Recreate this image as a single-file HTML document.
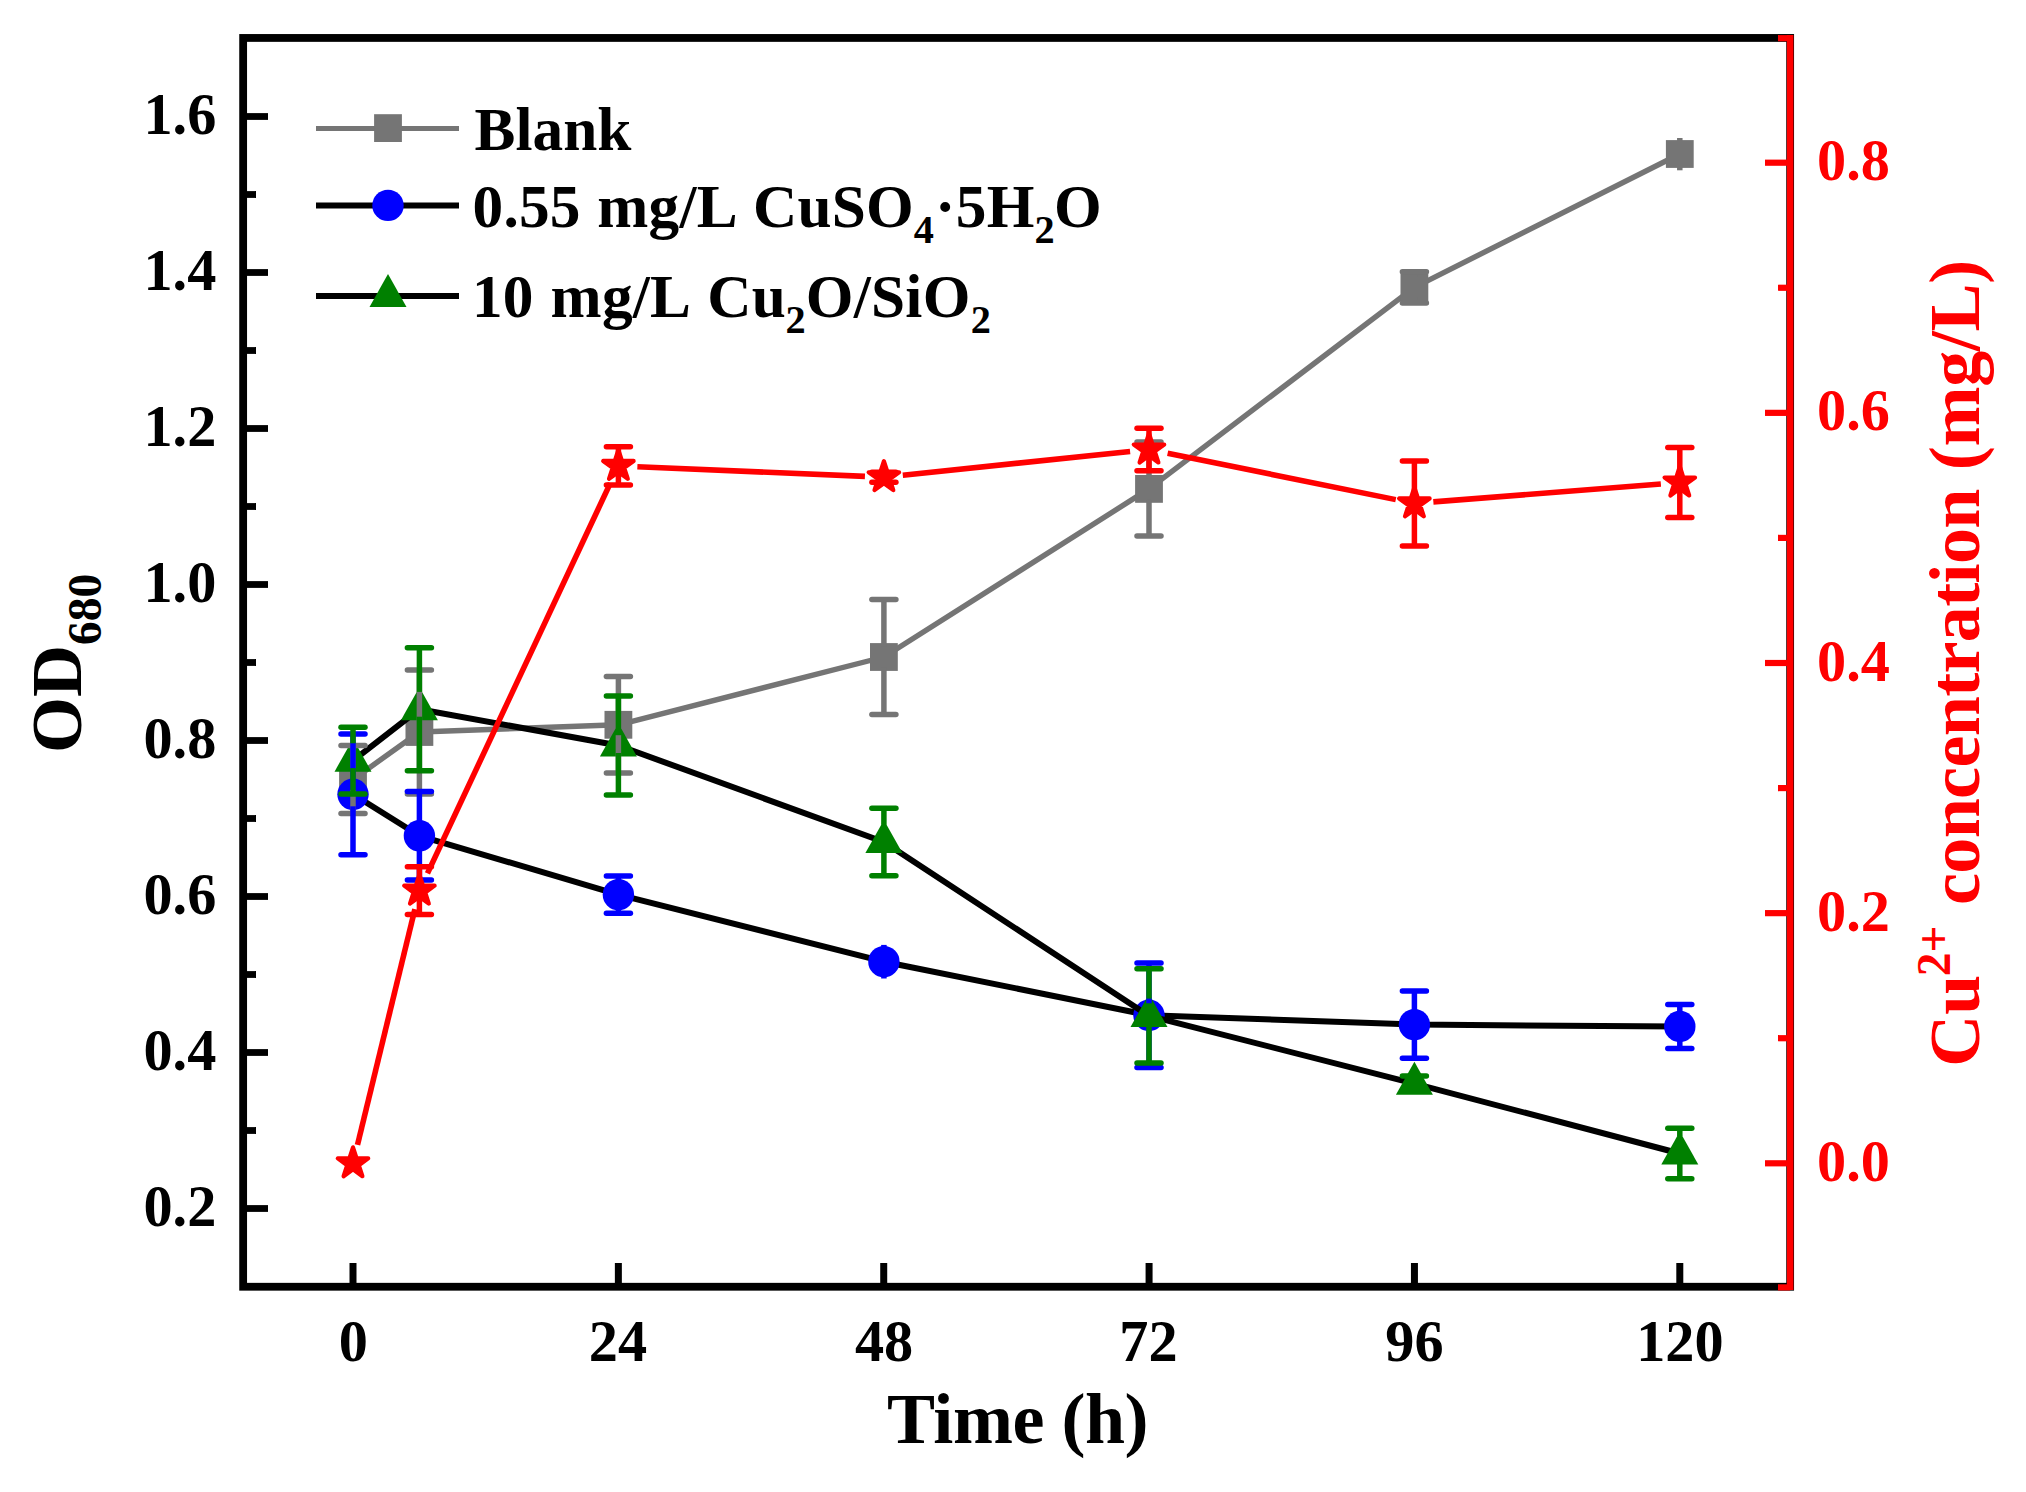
<!DOCTYPE html>
<html lang="en">
<head>
<meta charset="utf-8">
<title>OD680 and Cu2+ concentration vs time</title>
<style>
html,body{margin:0;padding:0;background:#fff;}
body{width:2026px;height:1492px;overflow:hidden;}
svg{display:block;}
</style>
</head>
<body>
<svg width="2026" height="1492" viewBox="0 0 2026 1492" font-family="'Liberation Serif', serif" font-weight="bold">
<rect x="0" y="0" width="2026" height="1492" fill="#ffffff"/>
<rect x="243.15" y="37.95" width="1547" height="1248.8" fill="none" stroke="#000" stroke-width="7.8"/>
<line x1="243.15" y1="1208.5" x2="268" y2="1208.5" stroke="#000" stroke-width="6.8"/>
<line x1="243.15" y1="1130.5" x2="256" y2="1130.5" stroke="#000" stroke-width="6.8"/>
<line x1="243.15" y1="1052.5" x2="268" y2="1052.5" stroke="#000" stroke-width="6.8"/>
<line x1="243.15" y1="974.5" x2="256" y2="974.5" stroke="#000" stroke-width="6.8"/>
<line x1="243.15" y1="896.5" x2="268" y2="896.5" stroke="#000" stroke-width="6.8"/>
<line x1="243.15" y1="818.5" x2="256" y2="818.5" stroke="#000" stroke-width="6.8"/>
<line x1="243.15" y1="740.5" x2="268" y2="740.5" stroke="#000" stroke-width="6.8"/>
<line x1="243.15" y1="662.5" x2="256" y2="662.5" stroke="#000" stroke-width="6.8"/>
<line x1="243.15" y1="584.5" x2="268" y2="584.5" stroke="#000" stroke-width="6.8"/>
<line x1="243.15" y1="506.5" x2="256" y2="506.5" stroke="#000" stroke-width="6.8"/>
<line x1="243.15" y1="428.5" x2="268" y2="428.5" stroke="#000" stroke-width="6.8"/>
<line x1="243.15" y1="350.5" x2="256" y2="350.5" stroke="#000" stroke-width="6.8"/>
<line x1="243.15" y1="272.5" x2="268" y2="272.5" stroke="#000" stroke-width="6.8"/>
<line x1="243.15" y1="194.5" x2="256" y2="194.5" stroke="#000" stroke-width="6.8"/>
<line x1="243.15" y1="116.5" x2="268" y2="116.5" stroke="#000" stroke-width="6.8"/>
<line x1="243.15" y1="1286.5" x2="256" y2="1286.5" stroke="#000" stroke-width="6.8"/>
<line x1="353" y1="1286.75" x2="353" y2="1263" stroke="#000" stroke-width="7"/>
<line x1="618.36" y1="1286.75" x2="618.36" y2="1263" stroke="#000" stroke-width="7"/>
<line x1="883.72" y1="1286.75" x2="883.72" y2="1263" stroke="#000" stroke-width="7"/>
<line x1="1149.08" y1="1286.75" x2="1149.08" y2="1263" stroke="#000" stroke-width="7"/>
<line x1="1414.44" y1="1286.75" x2="1414.44" y2="1263" stroke="#000" stroke-width="7"/>
<line x1="1679.8" y1="1286.75" x2="1679.8" y2="1263" stroke="#000" stroke-width="7"/>
<line x1="1790.15" y1="35" x2="1790.15" y2="1290" stroke="#ff0000" stroke-width="6.6"/>
<line x1="1778" y1="1287.4" x2="1790.15" y2="1287.4" stroke="#ff0000" stroke-width="6.2"/>
<line x1="1765" y1="1163.3" x2="1790.15" y2="1163.3" stroke="#ff0000" stroke-width="6.2"/>
<line x1="1778" y1="1038.22" x2="1790.15" y2="1038.22" stroke="#ff0000" stroke-width="6.2"/>
<line x1="1765" y1="913.15" x2="1790.15" y2="913.15" stroke="#ff0000" stroke-width="6.2"/>
<line x1="1778" y1="788.07" x2="1790.15" y2="788.07" stroke="#ff0000" stroke-width="6.2"/>
<line x1="1765" y1="663" x2="1790.15" y2="663" stroke="#ff0000" stroke-width="6.2"/>
<line x1="1778" y1="537.92" x2="1790.15" y2="537.92" stroke="#ff0000" stroke-width="6.2"/>
<line x1="1765" y1="412.85" x2="1790.15" y2="412.85" stroke="#ff0000" stroke-width="6.2"/>
<line x1="1778" y1="287.77" x2="1790.15" y2="287.77" stroke="#ff0000" stroke-width="6.2"/>
<line x1="1765" y1="162.7" x2="1790.15" y2="162.7" stroke="#ff0000" stroke-width="6.2"/>
<line x1="1778" y1="38.2" x2="1790.15" y2="38.2" stroke="#ff0000" stroke-width="6.2"/>
<text transform="translate(216.3 1226.1) scale(1 1.025)" font-size="58.3" text-anchor="end">0.2</text>
<text transform="translate(216.3 1070.1) scale(1 1.025)" font-size="58.3" text-anchor="end">0.4</text>
<text transform="translate(216.3 914.1) scale(1 1.025)" font-size="58.3" text-anchor="end">0.6</text>
<text transform="translate(216.3 758.1) scale(1 1.025)" font-size="58.3" text-anchor="end">0.8</text>
<text transform="translate(216.3 602.1) scale(1 1.025)" font-size="58.3" text-anchor="end">1.0</text>
<text transform="translate(216.3 446.1) scale(1 1.025)" font-size="58.3" text-anchor="end">1.2</text>
<text transform="translate(216.3 290.1) scale(1 1.025)" font-size="58.3" text-anchor="end">1.4</text>
<text transform="translate(216.3 134.1) scale(1 1.025)" font-size="58.3" text-anchor="end">1.6</text>
<text transform="translate(353.3 1361) scale(1 1.025)" font-size="58.3" text-anchor="middle">0</text>
<text transform="translate(617.96 1361) scale(1 1.025)" font-size="58.3" text-anchor="middle">24</text>
<text transform="translate(884.02 1361) scale(1 1.025)" font-size="58.3" text-anchor="middle">48</text>
<text transform="translate(1148.48 1361) scale(1 1.025)" font-size="58.3" text-anchor="middle">72</text>
<text transform="translate(1414.44 1361) scale(1 1.025)" font-size="58.3" text-anchor="middle">96</text>
<text transform="translate(1679.9 1361) scale(1 1.025)" font-size="58.3" text-anchor="middle">120</text>
<text transform="translate(1817 1180.8) scale(1 1.025)" font-size="58.3" fill="#ff0000">0.0</text>
<text transform="translate(1817 930.65) scale(1 1.025)" font-size="58.3" fill="#ff0000">0.2</text>
<text transform="translate(1817 680.5) scale(1 1.025)" font-size="58.3" fill="#ff0000">0.4</text>
<text transform="translate(1817 430.35) scale(1 1.025)" font-size="58.3" fill="#ff0000">0.6</text>
<text transform="translate(1817 180.2) scale(1 1.025)" font-size="58.3" fill="#ff0000">0.8</text>
<text x="1017.6" y="1442.7" font-size="72" text-anchor="middle" letter-spacing="-0.45">Time (h)</text>
<text transform="translate(81.4 753) rotate(-90)" font-size="72">OD<tspan font-size="47.5" dy="19.7">680</tspan></text>
<text transform="translate(1979.2 1066.7) rotate(-90)" font-size="72" fill="#ff0000"><tspan x="0">Cu</tspan><tspan x="90.4" font-size="47.5" dy="-29.5">2+</tspan><tspan dy="29.5"> </tspan><tspan x="161.7" letter-spacing="-0.63">concentration </tspan><tspan x="596.5" letter-spacing="-0.3">(mg/L)</tspan></text>
<polyline points="353,779.5 419.4,732 618.4,724.8 883.9,657 1149,488.9 1414.4,287.3 1679.8,154" fill="none" stroke="#757575" stroke-width="5.4" stroke-linejoin="round"/>
<rect x="339.1" y="765.6" width="27.8" height="27.8" fill="#757575"/>
<rect x="405.5" y="718.1" width="27.8" height="27.8" fill="#757575"/>
<rect x="604.5" y="710.9" width="27.8" height="27.8" fill="#757575"/>
<rect x="870" y="643.1" width="27.8" height="27.8" fill="#757575"/>
<rect x="1135.1" y="475" width="27.8" height="27.8" fill="#757575"/>
<rect x="1400.5" y="273.4" width="27.8" height="27.8" fill="#757575"/>
<rect x="1665.9" y="140.1" width="27.8" height="27.8" fill="#757575"/>
<polyline points="353,794.3 419.4,835.8 618.4,894.6 883.9,961.7 1149,1015.3 1414.4,1024.6 1679.8,1026.5" fill="none" stroke="#000000" stroke-width="6" stroke-linejoin="round"/>
<circle cx="353" cy="794.3" r="15.7" fill="#0000ff"/>
<circle cx="419.4" cy="835.8" r="15.7" fill="#0000ff"/>
<circle cx="618.4" cy="894.6" r="15.7" fill="#0000ff"/>
<circle cx="883.9" cy="961.7" r="15.7" fill="#0000ff"/>
<circle cx="1149" cy="1015.3" r="15.7" fill="#0000ff"/>
<circle cx="1414.4" cy="1024.6" r="15.7" fill="#0000ff"/>
<circle cx="1679.8" cy="1026.5" r="15.7" fill="#0000ff"/>
<polyline points="353,760.6 419.4,709.2 618.4,745.5 883.9,842 1149,1015.9 1414.4,1083.6 1679.8,1153.5" fill="none" stroke="#000000" stroke-width="6" stroke-linejoin="round"/>
<polygon points="353,738.7 334.5,771.7 371.5,771.7" fill="#008000"/>
<polygon points="419.4,687.3 400.9,720.3 437.9,720.3" fill="#008000"/>
<polygon points="618.4,723.6 599.9,756.6 636.9,756.6" fill="#008000"/>
<polygon points="883.9,820.1 865.4,853.1 902.4,853.1" fill="#008000"/>
<polygon points="1149,994 1130.5,1027 1167.5,1027" fill="#008000"/>
<polygon points="1414.4,1061.7 1395.9,1094.7 1432.9,1094.7" fill="#008000"/>
<polygon points="1679.8,1131.6 1661.3,1164.6 1698.3,1164.6" fill="#008000"/>
<line x1="353" y1="745.4" x2="353" y2="769.1" stroke="#757575" stroke-width="5.5"/>
<line x1="353" y1="789.9" x2="353" y2="813.6" stroke="#757575" stroke-width="5.5"/>
<line x1="341" y1="745.4" x2="365" y2="745.4" stroke="#757575" stroke-width="5.5" stroke-linecap="round"/>
<line x1="341" y1="813.6" x2="365" y2="813.6" stroke="#757575" stroke-width="5.5" stroke-linecap="round"/>
<line x1="419.4" y1="670" x2="419.4" y2="721.6" stroke="#757575" stroke-width="5.5"/>
<line x1="419.4" y1="742.4" x2="419.4" y2="794" stroke="#757575" stroke-width="5.5"/>
<line x1="407.4" y1="670" x2="431.4" y2="670" stroke="#757575" stroke-width="5.5" stroke-linecap="round"/>
<line x1="407.4" y1="794" x2="431.4" y2="794" stroke="#757575" stroke-width="5.5" stroke-linecap="round"/>
<line x1="618.4" y1="676.6" x2="618.4" y2="714.4" stroke="#757575" stroke-width="5.5"/>
<line x1="618.4" y1="735.2" x2="618.4" y2="773" stroke="#757575" stroke-width="5.5"/>
<line x1="606.4" y1="676.6" x2="630.4" y2="676.6" stroke="#757575" stroke-width="5.5" stroke-linecap="round"/>
<line x1="606.4" y1="773" x2="630.4" y2="773" stroke="#757575" stroke-width="5.5" stroke-linecap="round"/>
<line x1="883.9" y1="599.5" x2="883.9" y2="646.6" stroke="#757575" stroke-width="5.5"/>
<line x1="883.9" y1="667.4" x2="883.9" y2="714.5" stroke="#757575" stroke-width="5.5"/>
<line x1="871.9" y1="599.5" x2="895.9" y2="599.5" stroke="#757575" stroke-width="5.5" stroke-linecap="round"/>
<line x1="871.9" y1="714.5" x2="895.9" y2="714.5" stroke="#757575" stroke-width="5.5" stroke-linecap="round"/>
<line x1="1149" y1="441.9" x2="1149" y2="478.5" stroke="#757575" stroke-width="5.5"/>
<line x1="1149" y1="499.3" x2="1149" y2="535.9" stroke="#757575" stroke-width="5.5"/>
<line x1="1137" y1="441.9" x2="1161" y2="441.9" stroke="#757575" stroke-width="5.5" stroke-linecap="round"/>
<line x1="1137" y1="535.9" x2="1161" y2="535.9" stroke="#757575" stroke-width="5.5" stroke-linecap="round"/>
<line x1="1414.4" y1="271.7" x2="1414.4" y2="276.9" stroke="#757575" stroke-width="5.5"/>
<line x1="1414.4" y1="297.7" x2="1414.4" y2="302.9" stroke="#757575" stroke-width="5.5"/>
<line x1="1402.4" y1="271.7" x2="1426.4" y2="271.7" stroke="#757575" stroke-width="5.5" stroke-linecap="round"/>
<line x1="1402.4" y1="302.9" x2="1426.4" y2="302.9" stroke="#757575" stroke-width="5.5" stroke-linecap="round"/>
<line x1="1679.8" y1="138" x2="1679.8" y2="170.3" stroke="#757575" stroke-width="5.5"/>
<line x1="353" y1="733.9" x2="353" y2="782.3" stroke="#0000ff" stroke-width="5.5"/>
<line x1="353" y1="806.3" x2="353" y2="854.7" stroke="#0000ff" stroke-width="5.5"/>
<line x1="341" y1="733.9" x2="365" y2="733.9" stroke="#0000ff" stroke-width="5.5" stroke-linecap="round"/>
<line x1="341" y1="854.7" x2="365" y2="854.7" stroke="#0000ff" stroke-width="5.5" stroke-linecap="round"/>
<line x1="419.4" y1="791.6" x2="419.4" y2="823.8" stroke="#0000ff" stroke-width="5.5"/>
<line x1="419.4" y1="847.8" x2="419.4" y2="880" stroke="#0000ff" stroke-width="5.5"/>
<line x1="407.4" y1="791.6" x2="431.4" y2="791.6" stroke="#0000ff" stroke-width="5.5" stroke-linecap="round"/>
<line x1="407.4" y1="880" x2="431.4" y2="880" stroke="#0000ff" stroke-width="5.5" stroke-linecap="round"/>
<line x1="618.4" y1="875.9" x2="618.4" y2="882.6" stroke="#0000ff" stroke-width="5.5"/>
<line x1="618.4" y1="906.6" x2="618.4" y2="913.3" stroke="#0000ff" stroke-width="5.5"/>
<line x1="606.4" y1="875.9" x2="630.4" y2="875.9" stroke="#0000ff" stroke-width="5.5" stroke-linecap="round"/>
<line x1="606.4" y1="913.3" x2="630.4" y2="913.3" stroke="#0000ff" stroke-width="5.5" stroke-linecap="round"/>
<line x1="1149" y1="963.1" x2="1149" y2="1003.3" stroke="#0000ff" stroke-width="5.5"/>
<line x1="1149" y1="1027.3" x2="1149" y2="1067.5" stroke="#0000ff" stroke-width="5.5"/>
<line x1="1137" y1="963.1" x2="1161" y2="963.1" stroke="#0000ff" stroke-width="5.5" stroke-linecap="round"/>
<line x1="1137" y1="1067.5" x2="1161" y2="1067.5" stroke="#0000ff" stroke-width="5.5" stroke-linecap="round"/>
<line x1="1414.4" y1="991" x2="1414.4" y2="1012.6" stroke="#0000ff" stroke-width="5.5"/>
<line x1="1414.4" y1="1036.6" x2="1414.4" y2="1058.2" stroke="#0000ff" stroke-width="5.5"/>
<line x1="1402.4" y1="991" x2="1426.4" y2="991" stroke="#0000ff" stroke-width="5.5" stroke-linecap="round"/>
<line x1="1402.4" y1="1058.2" x2="1426.4" y2="1058.2" stroke="#0000ff" stroke-width="5.5" stroke-linecap="round"/>
<line x1="1679.8" y1="1004.5" x2="1679.8" y2="1014.5" stroke="#0000ff" stroke-width="5.5"/>
<line x1="1679.8" y1="1038.5" x2="1679.8" y2="1048.5" stroke="#0000ff" stroke-width="5.5"/>
<line x1="1667.8" y1="1004.5" x2="1691.8" y2="1004.5" stroke="#0000ff" stroke-width="5.5" stroke-linecap="round"/>
<line x1="1667.8" y1="1048.5" x2="1691.8" y2="1048.5" stroke="#0000ff" stroke-width="5.5" stroke-linecap="round"/>
<line x1="883.9" y1="944.9" x2="883.9" y2="978.5" stroke="#0000ff" stroke-width="5.5"/>
<line x1="353" y1="727.3" x2="353" y2="743.3" stroke="#008000" stroke-width="5.5"/>
<line x1="353" y1="768.1" x2="353" y2="793.9" stroke="#008000" stroke-width="5.5"/>
<line x1="341" y1="727.3" x2="365" y2="727.3" stroke="#008000" stroke-width="5.5" stroke-linecap="round"/>
<line x1="341" y1="793.9" x2="365" y2="793.9" stroke="#008000" stroke-width="5.5" stroke-linecap="round"/>
<line x1="419.4" y1="647.7" x2="419.4" y2="691.9" stroke="#008000" stroke-width="5.5"/>
<line x1="419.4" y1="716.7" x2="419.4" y2="770.7" stroke="#008000" stroke-width="5.5"/>
<line x1="407.4" y1="647.7" x2="431.4" y2="647.7" stroke="#008000" stroke-width="5.5" stroke-linecap="round"/>
<line x1="407.4" y1="770.7" x2="431.4" y2="770.7" stroke="#008000" stroke-width="5.5" stroke-linecap="round"/>
<line x1="618.4" y1="696" x2="618.4" y2="728.2" stroke="#008000" stroke-width="5.5"/>
<line x1="618.4" y1="753" x2="618.4" y2="795" stroke="#008000" stroke-width="5.5"/>
<line x1="606.4" y1="696" x2="630.4" y2="696" stroke="#008000" stroke-width="5.5" stroke-linecap="round"/>
<line x1="606.4" y1="795" x2="630.4" y2="795" stroke="#008000" stroke-width="5.5" stroke-linecap="round"/>
<line x1="883.9" y1="808.3" x2="883.9" y2="824.7" stroke="#008000" stroke-width="5.5"/>
<line x1="883.9" y1="849.5" x2="883.9" y2="875.7" stroke="#008000" stroke-width="5.5"/>
<line x1="871.9" y1="808.3" x2="895.9" y2="808.3" stroke="#008000" stroke-width="5.5" stroke-linecap="round"/>
<line x1="871.9" y1="875.7" x2="895.9" y2="875.7" stroke="#008000" stroke-width="5.5" stroke-linecap="round"/>
<line x1="1149" y1="968.7" x2="1149" y2="998.6" stroke="#008000" stroke-width="5.5"/>
<line x1="1149" y1="1023.4" x2="1149" y2="1063.1" stroke="#008000" stroke-width="5.5"/>
<line x1="1137" y1="968.7" x2="1161" y2="968.7" stroke="#008000" stroke-width="5.5" stroke-linecap="round"/>
<line x1="1137" y1="1063.1" x2="1161" y2="1063.1" stroke="#008000" stroke-width="5.5" stroke-linecap="round"/>
<line x1="1402.4" y1="1076.1" x2="1426.4" y2="1076.1" stroke="#008000" stroke-width="5.5" stroke-linecap="round"/>
<line x1="1402.4" y1="1091.1" x2="1426.4" y2="1091.1" stroke="#008000" stroke-width="5.5" stroke-linecap="round"/>
<line x1="1679.8" y1="1128.2" x2="1679.8" y2="1136.2" stroke="#008000" stroke-width="5.5"/>
<line x1="1679.8" y1="1161" x2="1679.8" y2="1178.8" stroke="#008000" stroke-width="5.5"/>
<line x1="1667.8" y1="1128.2" x2="1691.8" y2="1128.2" stroke="#008000" stroke-width="5.5" stroke-linecap="round"/>
<line x1="1667.8" y1="1178.8" x2="1691.8" y2="1178.8" stroke="#008000" stroke-width="5.5" stroke-linecap="round"/>
<line x1="357.49" y1="1144.84" x2="414.91" y2="909.06" stroke="#ff0000" stroke-width="5.6"/>
<line x1="427.46" y1="873.4" x2="610.34" y2="483.1" stroke="#ff0000" stroke-width="5.6"/>
<line x1="637.38" y1="466.71" x2="864.92" y2="476.39" stroke="#ff0000" stroke-width="5.6"/>
<line x1="902.8" y1="475.23" x2="1130.1" y2="451.47" stroke="#ff0000" stroke-width="5.6"/>
<line x1="1167.62" y1="453.28" x2="1395.78" y2="499.62" stroke="#ff0000" stroke-width="5.6"/>
<line x1="1433.34" y1="501.91" x2="1660.86" y2="483.99" stroke="#ff0000" stroke-width="5.6"/>
<polygon points="353,1147.3 356.59,1158.36 368.22,1158.36 358.81,1165.19 362.4,1176.24 353,1169.41 343.6,1176.24 347.19,1165.19 337.78,1158.36 349.41,1158.36" fill="#ff0000" stroke="#ff0000" stroke-width="4.2" stroke-linejoin="round"/>
<polygon points="419.4,874.6 422.99,885.66 434.62,885.66 425.21,892.49 428.8,903.54 419.4,896.71 410,903.54 413.59,892.49 404.18,885.66 415.81,885.66" fill="#ff0000" stroke="#ff0000" stroke-width="4.2" stroke-linejoin="round"/>
<polygon points="618.4,449.9 621.99,460.96 633.62,460.96 624.21,467.79 627.8,478.84 618.4,472.01 609,478.84 612.59,467.79 603.18,460.96 614.81,460.96" fill="#ff0000" stroke="#ff0000" stroke-width="4.2" stroke-linejoin="round"/>
<polygon points="883.9,461.2 887.49,472.26 899.12,472.26 889.71,479.09 893.3,490.14 883.9,483.31 874.5,490.14 878.09,479.09 868.68,472.26 880.31,472.26" fill="#ff0000" stroke="#ff0000" stroke-width="4.2" stroke-linejoin="round"/>
<polygon points="1149,433.5 1152.59,444.56 1164.22,444.56 1154.81,451.39 1158.4,462.44 1149,455.61 1139.6,462.44 1143.19,451.39 1133.78,444.56 1145.41,444.56" fill="#ff0000" stroke="#ff0000" stroke-width="4.2" stroke-linejoin="round"/>
<polygon points="1414.4,487.4 1417.99,498.46 1429.62,498.46 1420.21,505.29 1423.8,516.34 1414.4,509.51 1405,516.34 1408.59,505.29 1399.18,498.46 1410.81,498.46" fill="#ff0000" stroke="#ff0000" stroke-width="4.2" stroke-linejoin="round"/>
<polygon points="1679.8,466.5 1683.39,477.56 1695.02,477.56 1685.61,484.39 1689.2,495.44 1679.8,488.61 1670.4,495.44 1673.99,484.39 1664.58,477.56 1676.21,477.56" fill="#ff0000" stroke="#ff0000" stroke-width="4.2" stroke-linejoin="round"/>
<line x1="419.4" y1="866.8" x2="419.4" y2="890.6" stroke="#ff0000" stroke-width="5.5"/>
<line x1="419.4" y1="890.6" x2="419.4" y2="914.4" stroke="#ff0000" stroke-width="5.5"/>
<line x1="407.4" y1="866.8" x2="431.4" y2="866.8" stroke="#ff0000" stroke-width="5.5" stroke-linecap="round"/>
<line x1="407.4" y1="914.4" x2="431.4" y2="914.4" stroke="#ff0000" stroke-width="5.5" stroke-linecap="round"/>
<line x1="618.4" y1="446.8" x2="618.4" y2="465.9" stroke="#ff0000" stroke-width="5.5"/>
<line x1="618.4" y1="465.9" x2="618.4" y2="485" stroke="#ff0000" stroke-width="5.5"/>
<line x1="606.4" y1="446.8" x2="630.4" y2="446.8" stroke="#ff0000" stroke-width="5.5" stroke-linecap="round"/>
<line x1="606.4" y1="485" x2="630.4" y2="485" stroke="#ff0000" stroke-width="5.5" stroke-linecap="round"/>
<line x1="883.9" y1="472.2" x2="883.9" y2="477.2" stroke="#ff0000" stroke-width="5.5"/>
<line x1="883.9" y1="477.2" x2="883.9" y2="482.2" stroke="#ff0000" stroke-width="5.5"/>
<line x1="871.9" y1="472.2" x2="895.9" y2="472.2" stroke="#ff0000" stroke-width="5.5" stroke-linecap="round"/>
<line x1="871.9" y1="482.2" x2="895.9" y2="482.2" stroke="#ff0000" stroke-width="5.5" stroke-linecap="round"/>
<line x1="1149" y1="428.2" x2="1149" y2="449.5" stroke="#ff0000" stroke-width="5.5"/>
<line x1="1149" y1="449.5" x2="1149" y2="470.8" stroke="#ff0000" stroke-width="5.5"/>
<line x1="1137" y1="428.2" x2="1161" y2="428.2" stroke="#ff0000" stroke-width="5.5" stroke-linecap="round"/>
<line x1="1137" y1="470.8" x2="1161" y2="470.8" stroke="#ff0000" stroke-width="5.5" stroke-linecap="round"/>
<line x1="1414.4" y1="460.9" x2="1414.4" y2="503.4" stroke="#ff0000" stroke-width="5.5"/>
<line x1="1414.4" y1="503.4" x2="1414.4" y2="545.9" stroke="#ff0000" stroke-width="5.5"/>
<line x1="1402.4" y1="460.9" x2="1426.4" y2="460.9" stroke="#ff0000" stroke-width="5.5" stroke-linecap="round"/>
<line x1="1402.4" y1="545.9" x2="1426.4" y2="545.9" stroke="#ff0000" stroke-width="5.5" stroke-linecap="round"/>
<line x1="1679.8" y1="447.5" x2="1679.8" y2="482.5" stroke="#ff0000" stroke-width="5.5"/>
<line x1="1679.8" y1="482.5" x2="1679.8" y2="517.5" stroke="#ff0000" stroke-width="5.5"/>
<line x1="1667.8" y1="447.5" x2="1691.8" y2="447.5" stroke="#ff0000" stroke-width="5.5" stroke-linecap="round"/>
<line x1="1667.8" y1="517.5" x2="1691.8" y2="517.5" stroke="#ff0000" stroke-width="5.5" stroke-linecap="round"/>
<line x1="316" y1="128.4" x2="459" y2="128.4" stroke="#757575" stroke-width="5"/>
<rect x="374.1" y="114.2" width="27.8" height="27.8" fill="#757575"/>
<line x1="316" y1="205.6" x2="459" y2="205.6" stroke="#000" stroke-width="6"/>
<circle cx="388" cy="205.4" r="15.7" fill="#0000ff"/>
<line x1="316" y1="295.9" x2="459" y2="295.9" stroke="#000" stroke-width="6"/>
<polygon points="388,273.9 369.5,306.9 406.5,306.9" fill="#008000"/>
<text x="474.6" y="150" font-size="61.3">Blank</text>
<text y="226.6" font-size="61.3" letter-spacing="0.25"><tspan x="472.5">0.55 </tspan><tspan x="597.3">mg/L </tspan><tspan x="752.9">CuSO</tspan><tspan x="913.8" font-size="40.3" dy="16">4</tspan><tspan x="935.1" dy="-16">·5H</tspan><tspan x="1034.6" font-size="40.3" dy="16">2</tspan><tspan x="1054" dy="-16">O</tspan></text>
<text y="317.4" font-size="61.3" letter-spacing="0.25"><tspan x="471.9">10 </tspan><tspan x="550.6">mg/L </tspan><tspan x="707.3">Cu</tspan><tspan x="785.4" font-size="40.3" dy="16">2</tspan><tspan x="805.8" dy="-16">O/SiO</tspan><tspan x="970.8" font-size="40.3" dy="16">2</tspan></text>
</svg>
</body>
</html>
